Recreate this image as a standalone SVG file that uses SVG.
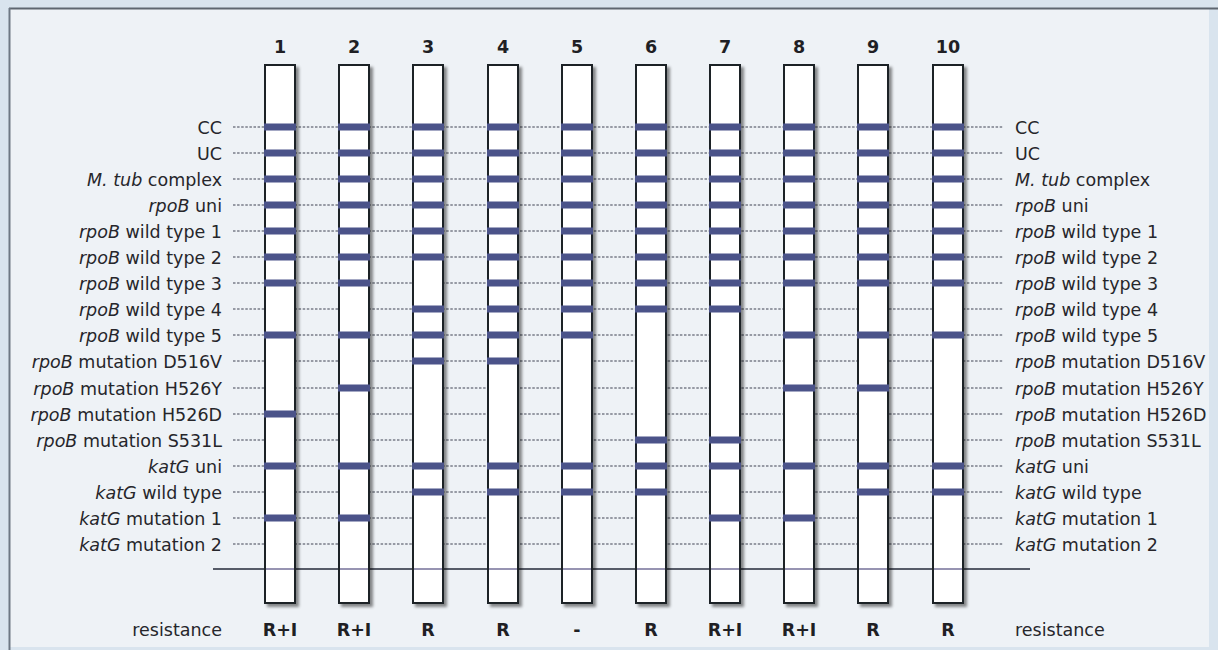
<svg xmlns="http://www.w3.org/2000/svg" width="1218" height="650" viewBox="0 0 1218 650">
<defs>
<filter id="sh" x="-30%" y="-5%" width="160%" height="110%">
<feDropShadow dx="3" dy="3" stdDeviation="1.6" flood-color="#000" flood-opacity="0.45"/>
</filter>
<style>
.lbl{font-family:"DejaVu Sans",sans-serif;font-size:17.5px;fill:#26262b}
.l{text-anchor:end}
.num{font-family:"DejaVu Sans",sans-serif;font-size:17.5px;font-weight:bold;fill:#1f1f24;text-anchor:middle}
.i{font-style:italic}
.strip{fill:#ffffff;stroke:#1d2128;stroke-width:2}
.band{fill:#4b5389}
.dot{stroke:#3e4252;stroke-width:1;stroke-dasharray:2.5 1.6;fill:none}
.base{stroke:#565b68;stroke-width:2.2}
.baseover{stroke:#9794b2;stroke-width:2}
</style>
</defs>
<rect x="0" y="0" width="1218" height="650" fill="#d9e4ee"/>
<rect x="9" y="8" width="1200" height="639" fill="#eef2f6"/>
<line x1="9" y1="8.5" x2="1218" y2="8.5" stroke="#5e6670" stroke-width="2"/>
<line x1="9.5" y1="8" x2="9.5" y2="650" stroke="#6e7884" stroke-width="2"/>

<g id="connectors">
<line class="dot" x1="233" y1="127" x2="1003" y2="127"/>
<line class="dot" x1="233" y1="153" x2="1003" y2="153"/>
<line class="dot" x1="233" y1="179" x2="1003" y2="179"/>
<line class="dot" x1="233" y1="205" x2="1003" y2="205"/>
<line class="dot" x1="233" y1="231" x2="1003" y2="231"/>
<line class="dot" x1="233" y1="257" x2="1003" y2="257"/>
<line class="dot" x1="233" y1="283" x2="1003" y2="283"/>
<line class="dot" x1="233" y1="309" x2="1003" y2="309"/>
<line class="dot" x1="233" y1="335" x2="1003" y2="335"/>
<line class="dot" x1="233" y1="361" x2="1003" y2="361"/>
<line class="dot" x1="233" y1="388" x2="1003" y2="388"/>
<line class="dot" x1="233" y1="414" x2="1003" y2="414"/>
<line class="dot" x1="233" y1="440" x2="1003" y2="440"/>
<line class="dot" x1="233" y1="466" x2="1003" y2="466"/>
<line class="dot" x1="233" y1="492" x2="1003" y2="492"/>
<line class="dot" x1="233" y1="518" x2="1003" y2="518"/>
<line class="dot" x1="233" y1="544" x2="1003" y2="544"/>
<line class="base" x1="213" y1="569" x2="1030" y2="569"/>
</g>

<g id="labels-left" class="lbl l">
<text x="222" y="134">CC</text>
<text x="222" y="160">UC</text>
<text x="222" y="186"><tspan class="i">M. tub</tspan> complex</text>
<text x="222" y="212"><tspan class="i">rpoB</tspan> uni</text>
<text x="222" y="238"><tspan class="i">rpoB</tspan> wild type 1</text>
<text x="222" y="264"><tspan class="i">rpoB</tspan> wild type 2</text>
<text x="222" y="290"><tspan class="i">rpoB</tspan> wild type 3</text>
<text x="222" y="316"><tspan class="i">rpoB</tspan> wild type 4</text>
<text x="222" y="342"><tspan class="i">rpoB</tspan> wild type 5</text>
<text x="222" y="368"><tspan class="i">rpoB</tspan> mutation D516V</text>
<text x="222" y="395"><tspan class="i">rpoB</tspan> mutation H526Y</text>
<text x="222" y="421"><tspan class="i">rpoB</tspan> mutation H526D</text>
<text x="222" y="447"><tspan class="i">rpoB</tspan> mutation S531L</text>
<text x="222" y="473"><tspan class="i">katG</tspan> uni</text>
<text x="222" y="499"><tspan class="i">katG</tspan> wild type</text>
<text x="222" y="525"><tspan class="i">katG</tspan> mutation 1</text>
<text x="222" y="551"><tspan class="i">katG</tspan> mutation 2</text>
<text x="222" y="636">resistance</text>
</g>

<g id="labels-right" class="lbl">
<text x="1015" y="134">CC</text>
<text x="1015" y="160">UC</text>
<text x="1015" y="186"><tspan class="i">M. tub</tspan> complex</text>
<text x="1015" y="212"><tspan class="i">rpoB</tspan> uni</text>
<text x="1015" y="238"><tspan class="i">rpoB</tspan> wild type 1</text>
<text x="1015" y="264"><tspan class="i">rpoB</tspan> wild type 2</text>
<text x="1015" y="290"><tspan class="i">rpoB</tspan> wild type 3</text>
<text x="1015" y="316"><tspan class="i">rpoB</tspan> wild type 4</text>
<text x="1015" y="342"><tspan class="i">rpoB</tspan> wild type 5</text>
<text x="1015" y="368"><tspan class="i">rpoB</tspan> mutation D516V</text>
<text x="1015" y="395"><tspan class="i">rpoB</tspan> mutation H526Y</text>
<text x="1015" y="421"><tspan class="i">rpoB</tspan> mutation H526D</text>
<text x="1015" y="447"><tspan class="i">rpoB</tspan> mutation S531L</text>
<text x="1015" y="473"><tspan class="i">katG</tspan> uni</text>
<text x="1015" y="499"><tspan class="i">katG</tspan> wild type</text>
<text x="1015" y="525"><tspan class="i">katG</tspan> mutation 1</text>
<text x="1015" y="551"><tspan class="i">katG</tspan> mutation 2</text>
<text x="1015" y="636">resistance</text>
</g>

<g id="strip1">
<text class="num" x="280" y="53">1</text>
<rect class="strip" x="265" y="65" width="30" height="538" filter="url(#sh)"/>
<rect class="band" x="264" y="123.5" width="32" height="7"/>
<rect class="band" x="264" y="149.5" width="32" height="7"/>
<rect class="band" x="264" y="175.5" width="32" height="7"/>
<rect class="band" x="264" y="201.5" width="32" height="7"/>
<rect class="band" x="264" y="227.5" width="32" height="7"/>
<rect class="band" x="264" y="253.5" width="32" height="7"/>
<rect class="band" x="264" y="279.5" width="32" height="7"/>
<rect class="band" x="264" y="331.5" width="32" height="7"/>
<rect class="band" x="264" y="410.5" width="32" height="7"/>
<rect class="band" x="264" y="462.5" width="32" height="7"/>
<rect class="band" x="264" y="514.5" width="32" height="7"/>
<line class="baseover" x1="266" y1="569" x2="294" y2="569"/>
<text class="num" x="280" y="636">R+I</text>
</g>

<g id="strip2">
<text class="num" x="354" y="53">2</text>
<rect class="strip" x="339" y="65" width="30" height="538" filter="url(#sh)"/>
<rect class="band" x="338" y="123.5" width="32" height="7"/>
<rect class="band" x="338" y="149.5" width="32" height="7"/>
<rect class="band" x="338" y="175.5" width="32" height="7"/>
<rect class="band" x="338" y="201.5" width="32" height="7"/>
<rect class="band" x="338" y="227.5" width="32" height="7"/>
<rect class="band" x="338" y="253.5" width="32" height="7"/>
<rect class="band" x="338" y="279.5" width="32" height="7"/>
<rect class="band" x="338" y="331.5" width="32" height="7"/>
<rect class="band" x="338" y="384.5" width="32" height="7"/>
<rect class="band" x="338" y="462.5" width="32" height="7"/>
<rect class="band" x="338" y="514.5" width="32" height="7"/>
<line class="baseover" x1="340" y1="569" x2="368" y2="569"/>
<text class="num" x="354" y="636">R+I</text>
</g>

<g id="strip3">
<text class="num" x="428" y="53">3</text>
<rect class="strip" x="413" y="65" width="30" height="538" filter="url(#sh)"/>
<rect class="band" x="412" y="123.5" width="32" height="7"/>
<rect class="band" x="412" y="149.5" width="32" height="7"/>
<rect class="band" x="412" y="175.5" width="32" height="7"/>
<rect class="band" x="412" y="201.5" width="32" height="7"/>
<rect class="band" x="412" y="227.5" width="32" height="7"/>
<rect class="band" x="412" y="253.5" width="32" height="7"/>
<rect class="band" x="412" y="305.5" width="32" height="7"/>
<rect class="band" x="412" y="331.5" width="32" height="7"/>
<rect class="band" x="412" y="357.5" width="32" height="7"/>
<rect class="band" x="412" y="462.5" width="32" height="7"/>
<rect class="band" x="412" y="488.5" width="32" height="7"/>
<line class="baseover" x1="414" y1="569" x2="442" y2="569"/>
<text class="num" x="428" y="636">R</text>
</g>

<g id="strip4">
<text class="num" x="503" y="53">4</text>
<rect class="strip" x="488" y="65" width="30" height="538" filter="url(#sh)"/>
<rect class="band" x="487" y="123.5" width="32" height="7"/>
<rect class="band" x="487" y="149.5" width="32" height="7"/>
<rect class="band" x="487" y="175.5" width="32" height="7"/>
<rect class="band" x="487" y="201.5" width="32" height="7"/>
<rect class="band" x="487" y="227.5" width="32" height="7"/>
<rect class="band" x="487" y="253.5" width="32" height="7"/>
<rect class="band" x="487" y="279.5" width="32" height="7"/>
<rect class="band" x="487" y="305.5" width="32" height="7"/>
<rect class="band" x="487" y="331.5" width="32" height="7"/>
<rect class="band" x="487" y="357.5" width="32" height="7"/>
<rect class="band" x="487" y="462.5" width="32" height="7"/>
<rect class="band" x="487" y="488.5" width="32" height="7"/>
<line class="baseover" x1="489" y1="569" x2="517" y2="569"/>
<text class="num" x="503" y="636">R</text>
</g>

<g id="strip5">
<text class="num" x="577" y="53">5</text>
<rect class="strip" x="562" y="65" width="30" height="538" filter="url(#sh)"/>
<rect class="band" x="561" y="123.5" width="32" height="7"/>
<rect class="band" x="561" y="149.5" width="32" height="7"/>
<rect class="band" x="561" y="175.5" width="32" height="7"/>
<rect class="band" x="561" y="201.5" width="32" height="7"/>
<rect class="band" x="561" y="227.5" width="32" height="7"/>
<rect class="band" x="561" y="253.5" width="32" height="7"/>
<rect class="band" x="561" y="279.5" width="32" height="7"/>
<rect class="band" x="561" y="305.5" width="32" height="7"/>
<rect class="band" x="561" y="331.5" width="32" height="7"/>
<rect class="band" x="561" y="462.5" width="32" height="7"/>
<rect class="band" x="561" y="488.5" width="32" height="7"/>
<line class="baseover" x1="563" y1="569" x2="591" y2="569"/>
<text class="num" x="577" y="636">-</text>
</g>

<g id="strip6">
<text class="num" x="651" y="53">6</text>
<rect class="strip" x="636" y="65" width="30" height="538" filter="url(#sh)"/>
<rect class="band" x="635" y="123.5" width="32" height="7"/>
<rect class="band" x="635" y="149.5" width="32" height="7"/>
<rect class="band" x="635" y="175.5" width="32" height="7"/>
<rect class="band" x="635" y="201.5" width="32" height="7"/>
<rect class="band" x="635" y="227.5" width="32" height="7"/>
<rect class="band" x="635" y="253.5" width="32" height="7"/>
<rect class="band" x="635" y="279.5" width="32" height="7"/>
<rect class="band" x="635" y="305.5" width="32" height="7"/>
<rect class="band" x="635" y="436.5" width="32" height="7"/>
<rect class="band" x="635" y="462.5" width="32" height="7"/>
<rect class="band" x="635" y="488.5" width="32" height="7"/>
<line class="baseover" x1="637" y1="569" x2="665" y2="569"/>
<text class="num" x="651" y="636">R</text>
</g>

<g id="strip7">
<text class="num" x="725" y="53">7</text>
<rect class="strip" x="710" y="65" width="30" height="538" filter="url(#sh)"/>
<rect class="band" x="709" y="123.5" width="32" height="7"/>
<rect class="band" x="709" y="149.5" width="32" height="7"/>
<rect class="band" x="709" y="175.5" width="32" height="7"/>
<rect class="band" x="709" y="201.5" width="32" height="7"/>
<rect class="band" x="709" y="227.5" width="32" height="7"/>
<rect class="band" x="709" y="253.5" width="32" height="7"/>
<rect class="band" x="709" y="279.5" width="32" height="7"/>
<rect class="band" x="709" y="305.5" width="32" height="7"/>
<rect class="band" x="709" y="436.5" width="32" height="7"/>
<rect class="band" x="709" y="462.5" width="32" height="7"/>
<rect class="band" x="709" y="514.5" width="32" height="7"/>
<line class="baseover" x1="711" y1="569" x2="739" y2="569"/>
<text class="num" x="725" y="636">R+I</text>
</g>

<g id="strip8">
<text class="num" x="799" y="53">8</text>
<rect class="strip" x="784" y="65" width="30" height="538" filter="url(#sh)"/>
<rect class="band" x="783" y="123.5" width="32" height="7"/>
<rect class="band" x="783" y="149.5" width="32" height="7"/>
<rect class="band" x="783" y="175.5" width="32" height="7"/>
<rect class="band" x="783" y="201.5" width="32" height="7"/>
<rect class="band" x="783" y="227.5" width="32" height="7"/>
<rect class="band" x="783" y="253.5" width="32" height="7"/>
<rect class="band" x="783" y="279.5" width="32" height="7"/>
<rect class="band" x="783" y="331.5" width="32" height="7"/>
<rect class="band" x="783" y="384.5" width="32" height="7"/>
<rect class="band" x="783" y="462.5" width="32" height="7"/>
<rect class="band" x="783" y="514.5" width="32" height="7"/>
<line class="baseover" x1="785" y1="569" x2="813" y2="569"/>
<text class="num" x="799" y="636">R+I</text>
</g>

<g id="strip9">
<text class="num" x="873" y="53">9</text>
<rect class="strip" x="858" y="65" width="30" height="538" filter="url(#sh)"/>
<rect class="band" x="857" y="123.5" width="32" height="7"/>
<rect class="band" x="857" y="149.5" width="32" height="7"/>
<rect class="band" x="857" y="175.5" width="32" height="7"/>
<rect class="band" x="857" y="201.5" width="32" height="7"/>
<rect class="band" x="857" y="227.5" width="32" height="7"/>
<rect class="band" x="857" y="253.5" width="32" height="7"/>
<rect class="band" x="857" y="279.5" width="32" height="7"/>
<rect class="band" x="857" y="331.5" width="32" height="7"/>
<rect class="band" x="857" y="384.5" width="32" height="7"/>
<rect class="band" x="857" y="462.5" width="32" height="7"/>
<rect class="band" x="857" y="488.5" width="32" height="7"/>
<line class="baseover" x1="859" y1="569" x2="887" y2="569"/>
<text class="num" x="873" y="636">R</text>
</g>

<g id="strip10">
<text class="num" x="948" y="53">10</text>
<rect class="strip" x="933" y="65" width="30" height="538" filter="url(#sh)"/>
<rect class="band" x="932" y="123.5" width="32" height="7"/>
<rect class="band" x="932" y="149.5" width="32" height="7"/>
<rect class="band" x="932" y="175.5" width="32" height="7"/>
<rect class="band" x="932" y="201.5" width="32" height="7"/>
<rect class="band" x="932" y="227.5" width="32" height="7"/>
<rect class="band" x="932" y="253.5" width="32" height="7"/>
<rect class="band" x="932" y="279.5" width="32" height="7"/>
<rect class="band" x="932" y="331.5" width="32" height="7"/>
<rect class="band" x="932" y="462.5" width="32" height="7"/>
<rect class="band" x="932" y="488.5" width="32" height="7"/>
<line class="baseover" x1="934" y1="569" x2="962" y2="569"/>
<text class="num" x="948" y="636">R</text>
</g>
</svg>
